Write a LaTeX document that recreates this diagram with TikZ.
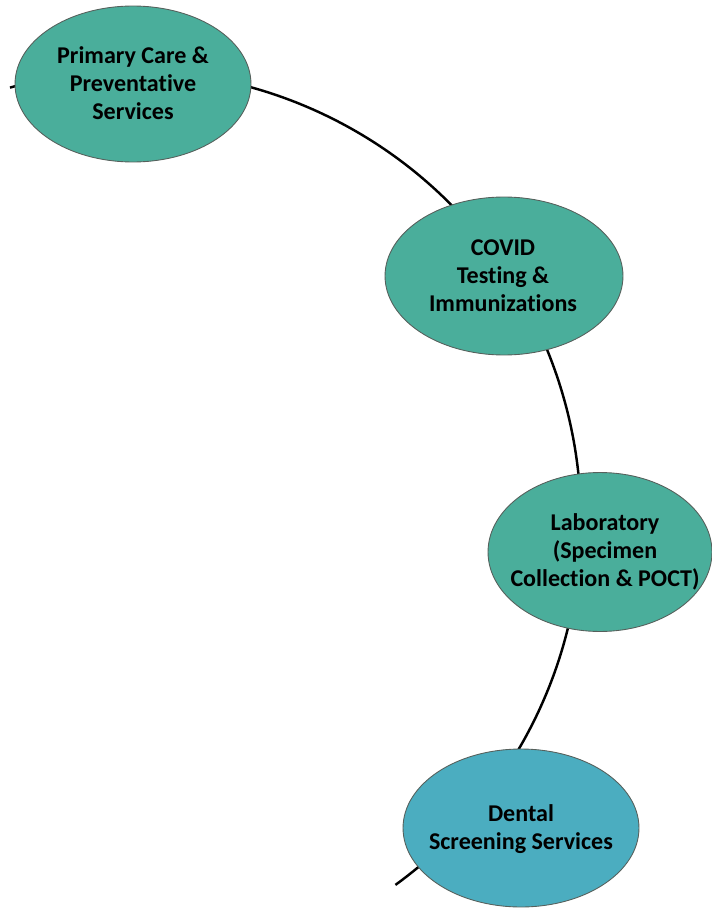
\documentclass[tikz,border=0pt]{standalone}
\usepackage{fontspec}
\setmainfont{Carlito}[Ligatures=NoCommon]
\usetikzlibrary{shapes.geometric}
\definecolor{tealfill}{HTML}{4AAE9B}
\definecolor{aquafill}{HTML}{4BADC0}
\definecolor{rimgray}{HTML}{56605C}
\tikzset{
  bubble/.style={shape=ellipse, draw=rimgray, line width=0.5pt, inner sep=0pt, fill=tealfill},
  caption/.style={align=center, font=\fontsize{13.7pt}{16pt}\selectfont\bfseries, text=black, inner sep=0pt},
  ring/.style={line width=1.4pt, black}
}
\begin{document}
\begin{tikzpicture}[x=0.02cm, y=0.02cm]
  \useasboundingbox (0,0) rectangle (712,-909);
  % the ring that strings the services together
  \coordinate (ringstart) at (10,-87.6);
  \draw[ring] (ringstart) arc[start angle=105.6, end angle=-54, radius=9cm] coordinate (ringend);

  % service bubbles
  \node[bubble, minimum width=4.72cm, minimum height=3.12cm] (primary) at (133,-84) {};
  \node[bubble, minimum width=4.76cm, minimum height=3.16cm] (covid) at (504,-276) {};
  \node[bubble, minimum width=4.48cm, minimum height=3.18cm] (lab) at (600,-552) {};
  \node[bubble, fill=aquafill, minimum width=4.72cm, minimum height=3.16cm] (dental) at (521,-828) {};

  % labels
  \node[caption] (primarytext) at (133,-83) {Primary Care \&\\Preventative\\Services};
  \node[caption] (covidtext) at (503,-276) {COVID\\Testing \&\\Immunizations};
  \node[caption] (labtext) at (605,-552) {Laboratory\\(Specimen\\Collection \& POCT)};
  \node[caption] (dentaltext) at (521,-829) {Dental\\Screening Services};
\end{tikzpicture}
\end{document}
